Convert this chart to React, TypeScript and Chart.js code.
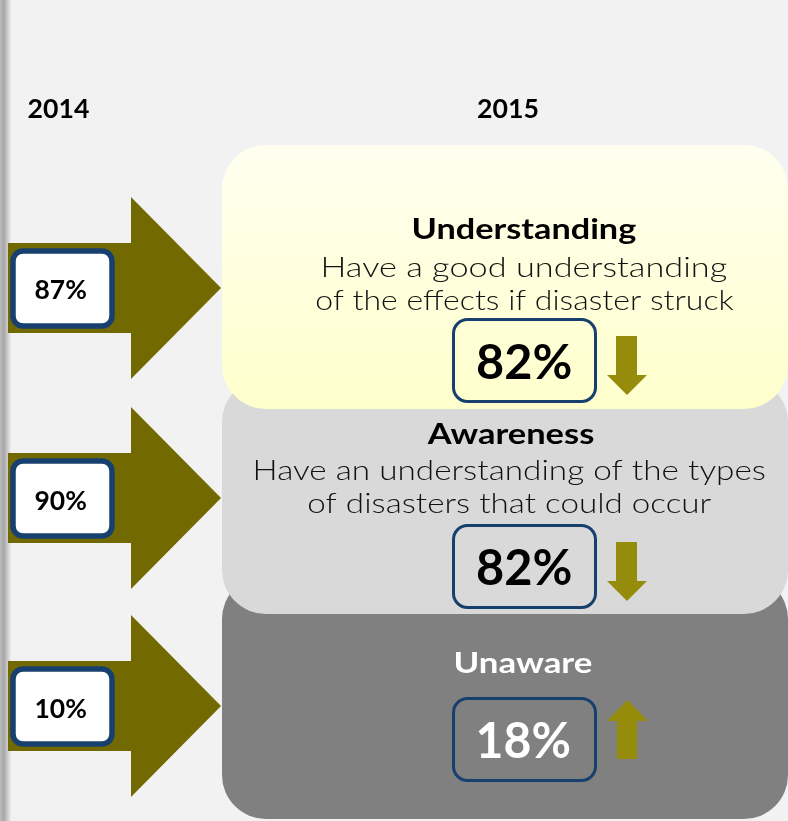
import React, { useEffect, useRef } from "react";
import { Chart, registerables } from "chart.js";

Chart.register(...registerables);

const years = ["2014", "2015"];
const categories = ["Understanding", "Awareness", "Unaware"];
const descriptionLine1 = ["Have a good understanding", "Have an understanding of the types", ""];
const descriptionLine2 = ["of the effects if disaster struck", "of disasters that could occur", ""];
const values2014 = [87, 90, 10];
const values2015 = [82, 82, 18];

const FONT = "Lato, 'Open Sans', sans-serif";

function fitText(
  ctx: CanvasRenderingContext2D,
  text: string,
  weight: string,
  cx: number,
  baseline: number,
  targetW: number,
  capH: number,
  color: string
) {
  ctx.save();
  ctx.font = `${weight} 100px ${FONT}`;
  const cap = ctx.measureText("H").actualBoundingBoxAscent || 72;
  const size = (100 * capH) / cap;
  ctx.font = `${weight} ${size}px ${FONT}`;
  ctx.textAlign = "left";
  ctx.textBaseline = "alphabetic";
  const m = ctx.measureText(text);
  const abl = m.actualBoundingBoxLeft;
  const abr = m.actualBoundingBoxRight;
  const w = abl + abr;
  let sx = targetW / w;
  sx = Math.max(0.6, Math.min(1.6, sx));
  ctx.translate(cx, baseline);
  ctx.scale(sx, 1);
  ctx.fillStyle = color;
  ctx.fillText(text, -(abr - abl) / 2, 0);
  ctx.restore();
}

function rr(ctx: CanvasRenderingContext2D, x: number, y: number, w: number, h: number, r: number) {
  ctx.beginPath();
  ctx.moveTo(x + r, y);
  ctx.lineTo(x + w - r, y);
  ctx.arcTo(x + w, y, x + w, y + r, r);
  ctx.lineTo(x + w, y + h - r);
  ctx.arcTo(x + w, y + h, x + w - r, y + h, r);
  ctx.lineTo(x + r, y + h);
  ctx.arcTo(x, y + h, x, y + h - r, r);
  ctx.lineTo(x, y + r);
  ctx.arcTo(x, y, x + r, y, r);
  ctx.closePath();
}

const infographicPlugin = {
  id: "infographic",
  beforeDraw(chart: any) {
    const ctx: CanvasRenderingContext2D = chart.ctx;
    const W = chart.width;
    const H = chart.height;
    const labels: string[] = chart.data.labels;
    const prev: number[] = chart.data.datasets[0].data;
    const curr: number[] = chart.data.datasets[1].data;
    const yearA = chart.data.datasets[0].label;
    const yearB = chart.data.datasets[1].label;

    ctx.save();
    ctx.fillStyle = "#f2f2f2";
    ctx.fillRect(0, 0, W, H);
    const g = ctx.createLinearGradient(0, 0, 11, 0);
    g.addColorStop(0, "#bdbdbd");
    g.addColorStop(0.35, "#a6a6a6");
    g.addColorStop(0.8, "#d8d8d8");
    g.addColorStop(1, "#eeeeee");
    ctx.fillStyle = g;
    ctx.fillRect(0, 0, 11, H);

    const panelX = 222;
    const panelW = 566;
    const panelTop = [145, 378, 575];
    const panelBot = [409, 614, 819];
    const radius = 44;
    rr(ctx, panelX, panelTop[2], panelW, panelBot[2] - panelTop[2], radius);
    ctx.fillStyle = "#808080";
    ctx.fill();
    rr(ctx, panelX, panelTop[1], panelW, panelBot[1] - panelTop[1], radius);
    ctx.fillStyle = "#d9d9d9";
    ctx.fill();
    const yg = ctx.createLinearGradient(0, panelTop[0], 0, panelBot[0]);
    yg.addColorStop(0, "#fffff0");
    yg.addColorStop(1, "#ffffcc");
    rr(ctx, panelX, panelTop[0], panelW, panelBot[0] - panelTop[0], radius);
    ctx.fillStyle = yg;
    ctx.fill();

    fitText(ctx, yearA, "bold", 59, 118, 61, 20, "#000");
    fitText(ctx, yearB, "bold", 508, 118, 60, 20, "#000");

    const tipY = [288, 498, 706];
    const labelBaseline = [299, 510, 718];
    const titleCx = [525, 510, 524];
    const titleBase = [239, 444, 673];
    const titleW = [222, 167, 136];
    const descBase1 = [277, 480];
    const descBase2 = [310, 513];
    const descW1 = [404, 510];
    const descW2 = [417, 403];
    const boxTop = [318, 524, 697];
    const valueCap = [35, 36, 36];
    const valueW = [94, 94, 91];

    for (let i = 0; i < labels.length; i++) {
      const ty = tipY[i];
      ctx.beginPath();
      ctx.moveTo(8, ty - 45);
      ctx.lineTo(131, ty - 45);
      ctx.lineTo(131, ty - 91);
      ctx.lineTo(221, ty);
      ctx.lineTo(131, ty + 91);
      ctx.lineTo(131, ty + 45);
      ctx.lineTo(8, ty + 45);
      ctx.closePath();
      ctx.fillStyle = "#726a00";
      ctx.fill();

      rr(ctx, 13, ty - 37, 99, 75, 10);
      ctx.fillStyle = "#ffffff";
      ctx.fill();
      ctx.lineWidth = 5.5;
      ctx.strokeStyle = "#17406f";
      ctx.stroke();
      fitText(ctx, `${prev[i]}%`, "bold", 61, labelBaseline[i], 51, 19, "#000");

      const isDark = i === 2;
      const txtColor = isDark ? "#ffffff" : "#000000";
      fitText(ctx, labels[i], "bold", titleCx[i], titleBase[i], titleW[i], 21, txtColor);
      if (descriptionLine1[i]) {
        fitText(ctx, descriptionLine1[i], "300", titleCx[i], descBase1[i], descW1[i], 20, "#111");
        fitText(ctx, descriptionLine2[i], "300", titleCx[i], descBase2[i], descW2[i], 20, "#111");
      }

      const bt = boxTop[i];
      rr(ctx, 453.5, bt + 1.5, 142, 82, 14);
      ctx.lineWidth = 3;
      ctx.strokeStyle = "#17406f";
      ctx.stroke();
      const cyBox = bt + 43;
      fitText(ctx, `${curr[i]}%`, "bold", 524, cyBox + valueCap[i] / 2, valueW[i], valueCap[i], txtColor);

      ctx.fillStyle = "#968c0b";
      ctx.beginPath();
      if (curr[i] < prev[i]) {
        ctx.moveTo(616, bt + 18);
        ctx.lineTo(637, bt + 18);
        ctx.lineTo(637, bt + 57);
        ctx.lineTo(647, bt + 57);
        ctx.lineTo(627, bt + 77);
        ctx.lineTo(607, bt + 57);
        ctx.lineTo(616, bt + 57);
      } else {
        ctx.moveTo(617, bt + 62);
        ctx.lineTo(637, bt + 62);
        ctx.lineTo(637, bt + 24);
        ctx.lineTo(648, bt + 24);
        ctx.lineTo(627.5, bt + 3);
        ctx.lineTo(607, bt + 24);
        ctx.lineTo(617, bt + 24);
      }
      ctx.closePath();
      ctx.fill();
    }
    ctx.restore();
  },
};

export default function App() {
  const ref = useRef<HTMLCanvasElement | null>(null);
  useEffect(() => {
    document.body.style.margin = "0";
    if (!ref.current) return;
    const chart = new Chart(ref.current, {
      type: "bar",
      data: {
        labels: categories,
        datasets: [
          { label: years[0], data: values2014, backgroundColor: "rgba(0,0,0,0)" },
          { label: years[1], data: values2015, backgroundColor: "rgba(0,0,0,0)" },
        ],
      },
      options: {
        responsive: false,
        animation: false,
        devicePixelRatio: 1,
        layout: { padding: 0 },
        plugins: { legend: { display: false }, tooltip: { enabled: false } },
        scales: { x: { display: false }, y: { display: false } },
      },
      plugins: [infographicPlugin],
    });
    return () => chart.destroy();
  }, []);
  return (
    <div style={{ width: 788, height: 821 }}>
      <canvas ref={ref} width={788} height={821} style={{ display: "block" }} />
    </div>
  );
}
